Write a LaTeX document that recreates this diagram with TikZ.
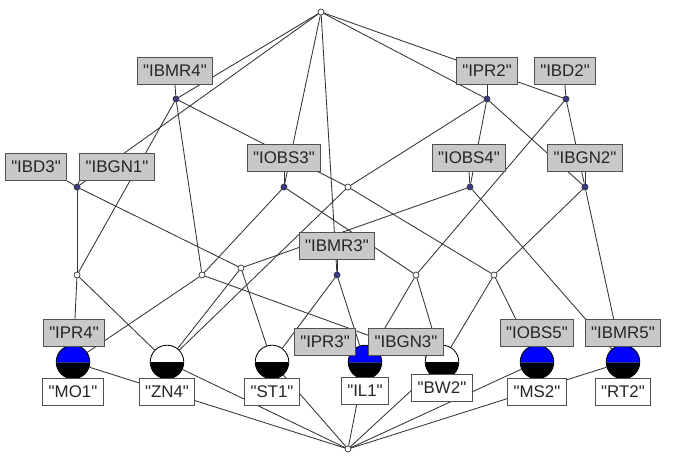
\documentclass[tikz,border=0pt]{standalone}
\usepackage{fontspec}
\setmainfont{Liberation Sans}[Ligatures=TeXOff]
\usepackage{tikz}
\usetikzlibrary{positioning,backgrounds}
\definecolor{lagris}{HTML}{C8C8C8}
\definecolor{labord}{HTML}{505050}
\definecolor{labnoeud}{HTML}{3A3A8C}
\definecolor{labbleu}{HTML}{0000FF}
\definecolor{labtrait}{HTML}{2A3A9A}
\definecolor{labtexte}{HTML}{262626}
\begin{document}
\begin{tikzpicture}[x=0.025cm, y=-0.025cm,
  every node/.style={font=\fontsize{12}{14}\selectfont, text=labtexte},
  etiq/.style={draw=labord, line width=0.7pt, inner xsep=0.15cm, inner ysep=0pt, minimum height=0.675cm},
  attr/.style={etiq, fill=lagris},
  objet/.style={etiq, fill=white},
  pt/.style={circle, draw=black!80, line width=0.5pt, fill=white, inner sep=0pt, minimum size=0.15cm},
  ptattr/.style={pt, fill=labnoeud},
  boule/.style={circle, draw=black, line width=0.6pt, inner sep=0pt, minimum size=0.84cm, fill=white,
    path picture={\fill[black] (path picture bounding box.west) rectangle (path picture bounding box.south east);}},
  bouleb/.style={boule, fill=labbleu,
    path picture={\fill[black] (path picture bounding box.west) rectangle (path picture bounding box.south east);
      \draw[labtrait, line width=0.6pt] (path picture bounding box.west) -- (path picture bounding box.east);}},
  lien/.style={black!80, line width=0.6pt}]
  \useasboundingbox (0,0) rectangle (674,462);
  % Concepts (petits noeuds)
  \node[pt] (ctop) at (321,12) {};
  \node[ptattr] (cbmr4) at (176,99) {};
  \node[ptattr] (cpr2) at (487,99) {};
  \node[ptattr] (cbd2) at (566,99) {};
  \node[ptattr] (cbd3) at (77,187) {};
  \node[ptattr] (cobs3) at (284,187) {};
  \node[pt] (cf) at (348,187) {};
  \node[ptattr] (cobs4) at (470,187) {};
  \node[ptattr] (cbgn2) at (585,187) {};
  \node[pt] (ci) at (77,275) {};
  \node[pt] (cj) at (202,275) {};
  \node[pt] (ck) at (241,268) {};
  \node[ptattr] (cbmr3) at (337,275) {};
  \node[pt] (cm) at (416,275) {};
  \node[pt] (cn) at (494,275) {};
  \node[pt] (cbot) at (348,449) {};
  % Concepts objets
  \node[bouleb] (mo1) at (73,362) {};
  \node[boule] (zn4) at (167,362) {};
  \node[boule] (st1) at (272,362) {};
  \node[bouleb] (il1) at (365,362) {};
  \node[boule] (bw2) at (442,362) {};
  \node[bouleb] (ms2) at (537,362) {};
  \node[bouleb] (rt2) at (623,362) {};
  % Etiquettes attributs
  \node[attr] (lbmr4) at (175,71) {"IBMR4"};
  \node[attr] (lpr2) at (487,71) {"IPR2"};
  \node[attr] (lbd2) at (565,71) {"IBD2"};
  \node[attr] (lbd3) at (36,167) {"IBD3"};
  \node[attr] (lbgn1) at (117,167) {"IBGN1"};
  \node[attr] (lobs3) at (284,158) {"IOBS3"};
  \node[attr] (lobs4) at (469,158) {"IOBS4"};
  \node[attr] (lbgn2) at (585,158) {"IBGN2"};
  \node[attr] (lbmr3) at (337,246) {"IBMR3"};
  \node[attr] (lpr4) at (74,333) {"IPR4"};
  \node[attr] (lpr3) at (325,342) {"IPR3"};
  \node[attr] (lbgn3) at (406,342) {"IBGN3"};
  \node[attr] (lobs5) at (537,333) {"IOBS5"};
  \node[attr] (lbmr5) at (623,333) {"IBMR5"};
  % Etiquettes objets
  \node[objet] (lmo1) at (73,392) {"MO1"};
  \node[objet] (lzn4) at (167,392) {"ZN4"};
  \node[objet] (lst1) at (272,392) {"ST1"};
  \node[objet] (lil1) at (365,391) {"IL1"};
  \node[objet] (lbw2) at (442,388) {"BW2"};
  \node[objet] (lms2) at (537,392) {"MS2"};
  \node[objet] (lrt2) at (623,392) {"RT2"};
  % Aretes du treillis (sous les noeuds)
  \begin{pgfonlayer}{background}
    \draw[lien] (ctop) -- (cbmr4);
    \draw[lien] (ctop) -- (cpr2);
    \draw[lien] (ctop) -- (cbd2);
    \draw[lien] (ctop) -- (cbd3);
    \draw[lien] (ctop) -- (cobs3);
    \draw[lien] (ctop) -- (cbmr3);
    \draw[lien] (cbmr4) -- (ci);
    \draw[lien] (cbmr4) -- (cj);
    \draw[lien] (cbmr4) -- (cf);
    \draw[lien] (cpr2) -- (cf);
    \draw[lien] (cpr2) -- (cobs4);
    \draw[lien] (cpr2) -- (cbgn2);
    \draw[lien] (cbd2) -- (cbgn2);
    \draw[lien] (cbd2) -- (cm);
    \draw[lien] (cbd3) -- (ci);
    \draw[lien] (cbd3) -- (ck);
    \draw[lien] (cobs3) -- (cj);
    \draw[lien] (cobs3) -- (cm);
    \draw[lien] (cf) -- (zn4);
    \draw[lien] (cf) -- (cn);
    \draw[lien] (cobs4) -- (ck);
    \draw[lien] (cobs4) -- (rt2);
    \draw[lien] (cbgn2) -- (cn);
    \draw[lien] (cbgn2) -- (rt2);
    \draw[lien] (ci) -- (mo1);
    \draw[lien] (ci) -- (zn4);
    \draw[lien] (cj) -- (mo1);
    \draw[lien] (cj) -- (bw2);
    \draw[lien] (ck) -- (zn4);
    \draw[lien] (ck) -- (st1);
    \draw[lien] (cbmr3) -- (st1);
    \draw[lien] (cbmr3) -- (il1);
    \draw[lien] (cm) -- (il1);
    \draw[lien] (cm) -- (bw2);
    \draw[lien] (cn) -- (bw2);
    \draw[lien] (cn) -- (ms2);
    \foreach \o in {mo1,zn4,st1,il1,bw2,ms2,rt2}
      \draw[lien] (\o) -- (cbot);
    % etiquettes -> noeuds
    \draw[lien] (lbmr4.south) -- (cbmr4);
    \draw[lien] (lpr2.south) -- (cpr2);
    \draw[lien] (lbd2.south) -- (cbd2);
    \draw[lien] (lbd3.south east) -- (cbd3);
    \draw[lien] (lbgn1.south west) -- (cbd3);
    \draw[lien] (lobs3.south) -- (cobs3);
    \draw[lien] (lobs4.south) -- (cobs4);
    \draw[lien] (lbgn2.south) -- (cbgn2);
    \draw[lien] (lbmr3.south) -- (cbmr3);
  \end{pgfonlayer}
\end{tikzpicture}
\end{document}
